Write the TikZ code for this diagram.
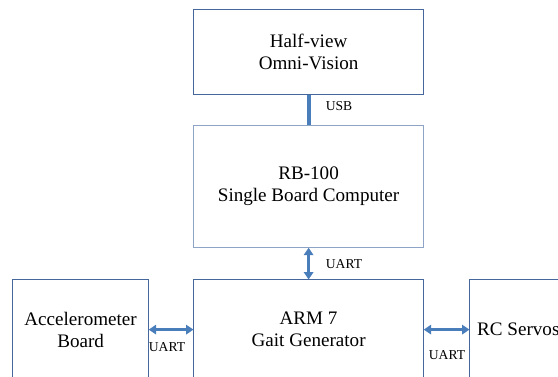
\documentclass[tikz,border=0pt]{standalone}
\usepackage{fontspec}
\setmainfont{Liberation Serif}
\usetikzlibrary{arrows.meta}
\definecolor{boxline}{HTML}{46679C}
\definecolor{boxlight}{HTML}{8EA4C6}
\definecolor{link}{HTML}{4A7EBB}
\tikzset{
  blk/.style={draw=boxline, line width=1.2pt, fill=white, align=center, inner sep=0pt,
    font=\fontsize{19.1}{22}\selectfont},
  lbl/.style={font=\fontsize{13.6}{16}\selectfont, inner sep=0pt},
  dbl/.style={draw=link, line width=2.6pt, {Triangle[length=7.5pt,width=9.5pt]}-{Triangle[length=7.5pt,width=9.5pt]}, shorten <=-0.5pt, shorten >=-0.5pt},
}
\begin{document}
\begin{tikzpicture}[x=1pt,y=-1pt]
\useasboundingbox (0,0) rectangle (558,376);
\clip (0,0) rectangle (558,376);
\node[blk, minimum width=230, minimum height=85, anchor=north west] (hv) at (193,9) {Half-view\\Omni-Vision};
\node[blk, draw=boxlight, minimum width=230, minimum height=122, anchor=north west] (rb) at (193,125) {RB-100\\Single Board Computer};
\node[blk, minimum width=230, minimum height=100, anchor=north west] (arm) at (193,279) {ARM 7\\Gait Generator};
\node[blk, minimum width=136, minimum height=100, anchor=north west] (acc) at (12,279) {Accelerometer\\Board};
\node[blk, minimum width=136, minimum height=100, anchor=north west] (rc) at (469,279) {};
\node[font=\fontsize{19.1}{22}\selectfont, inner sep=0pt, anchor=west] (rct) at ([xshift=8pt]rc.west) {RC Servos};
\draw[link, line width=4pt] (hv.south) -- (rb.north);
\draw[dbl] (rb.south) -- (arm.north);
\draw[dbl] (acc.east) -- (arm.west);
\draw[dbl] (arm.east) -- (rc.west);
\node[lbl] (usb) at (339,106) {USB};
\node[lbl] (u1) at (344,264) {UART};
\node[lbl] (u2) at (167,347) {UART};
\node[lbl] (u3) at (447,355) {UART};
\end{tikzpicture}
\end{document}
